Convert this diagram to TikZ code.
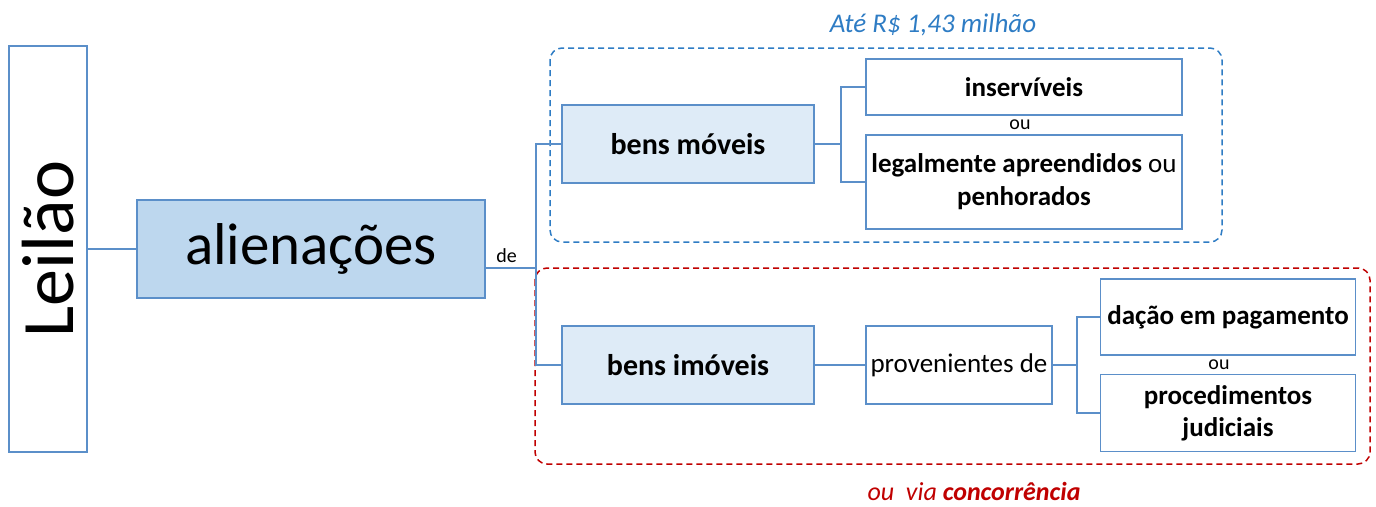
\documentclass[tikz,border=0pt]{standalone}
\usepackage{fontspec}
\setmainfont{Carlito}
\usetikzlibrary{positioning,calc}
\definecolor{edgeblue}{HTML}{5B8FC9}
\definecolor{deepfill}{HTML}{BDD7EE}
\definecolor{lightfill}{HTML}{DEEBF7}
\definecolor{grpblue}{HTML}{2E7CC4}
\definecolor{grpred}{HTML}{C00000}
\tikzset{
  box/.style={draw=edgeblue, line width=1.5pt, fill=white, align=center,
              inner sep=2pt, font=\fontsize{27}{31}\selectfont},
  keybox/.style={box, fill=lightfill, font=\fontsize{30}{34}\selectfont\bfseries},
  link/.style={edgeblue, line width=1.5pt},
  group/.style={line width=1.5pt, dash pattern=on 6pt off 4pt, rounded corners=12pt},
  small/.style={font=\fontsize{20}{22}\selectfont, inner sep=1pt},
}
\begin{document}
\begin{tikzpicture}[x=1pt, y=-1pt]
  \useasboundingbox (0,0) rectangle (1376,506);
  % left column
  \node[box, rotate=90, minimum width=406pt, minimum height=78pt, font=\fontsize{74}{74}\selectfont] (leilao) at (48,249) {Leilão};
  \node[box, fill=deepfill, minimum width=348pt, minimum height=98pt, font=\fontsize{59}{60}\selectfont] (alien) at (311,249) {alienações};
  \draw[link] (leilao.south) -- (alien.west);
  % groups
  \draw[group, grpblue] (550,48) rectangle (1222,242);
  \node[font=\fontsize{27}{31}\selectfont\itshape, text=grpblue] (teto) at (933,25) {Até R\$ 1,43 milhão};
  \draw[group, grpred] (535,268) rectangle (1370,464);
  \node[font=\fontsize{26}{30}\selectfont\itshape, text=grpred] (via) at (974,491) {ou\ \ via \textbf{concorrência}};
  % bens moveis
  \node[keybox, minimum width=252pt, minimum height=78pt] (bmov) at (688,144) {bens móveis};
  \node[box, minimum width=316pt, minimum height=56pt, font=\fontsize{27}{31}\selectfont\bfseries] (inserv) at (1024,87) {inservíveis};
  \node[box, minimum width=316pt, minimum height=94pt, font=\fontsize{27}{33}\selectfont\bfseries] (legal) at (1024,182) {legalmente apreendidos \textmd{ou}\\penhorados};
  \node[small] (ou1) at (1020,125) {ou};
  \draw[link] (bmov.east) -- ++(26,0) coordinate (fork1);
  \draw[link] (inserv.west) -| (fork1) |- (legal.west);
  % bens imoveis
  \node[keybox, minimum width=252pt, minimum height=78pt] (bimov) at (688,365) {bens imóveis};
  \node[box, minimum width=186pt, minimum height=78pt] (prov) at (959,365) {provenientes de};
  \node[box, minimum width=255pt, minimum height=76pt, font=\fontsize{27}{31}\selectfont\bfseries] (dacao) at (1228,317) {dação em pagamento};
  \node[box, minimum width=255pt, minimum height=77pt, font=\fontsize{27}{32}\selectfont\bfseries] (proc) at (1228,413) {procedimentos\\judiciais};
  \node[small] (ou2) at (1219,365) {ou};
  \draw[link] (bimov.east) -- (prov.west);
  \draw[link] (prov.east) -- ++(24,0) coordinate (fork2);
  \draw[link] (dacao.west) -| (fork2) |- (proc.west);
  % de
  \coordinate (bus) at (536,268);
  \draw[link] (alien.east |- bus) -- (bus);
  \node[small, above left=4pt and 18pt of bus] (de) {de};
  \draw[link] (bmov.west) -- (bmov.west -| bus) -- (bimov.west -| bus) -- (bimov.west);
\end{tikzpicture}
\end{document}
